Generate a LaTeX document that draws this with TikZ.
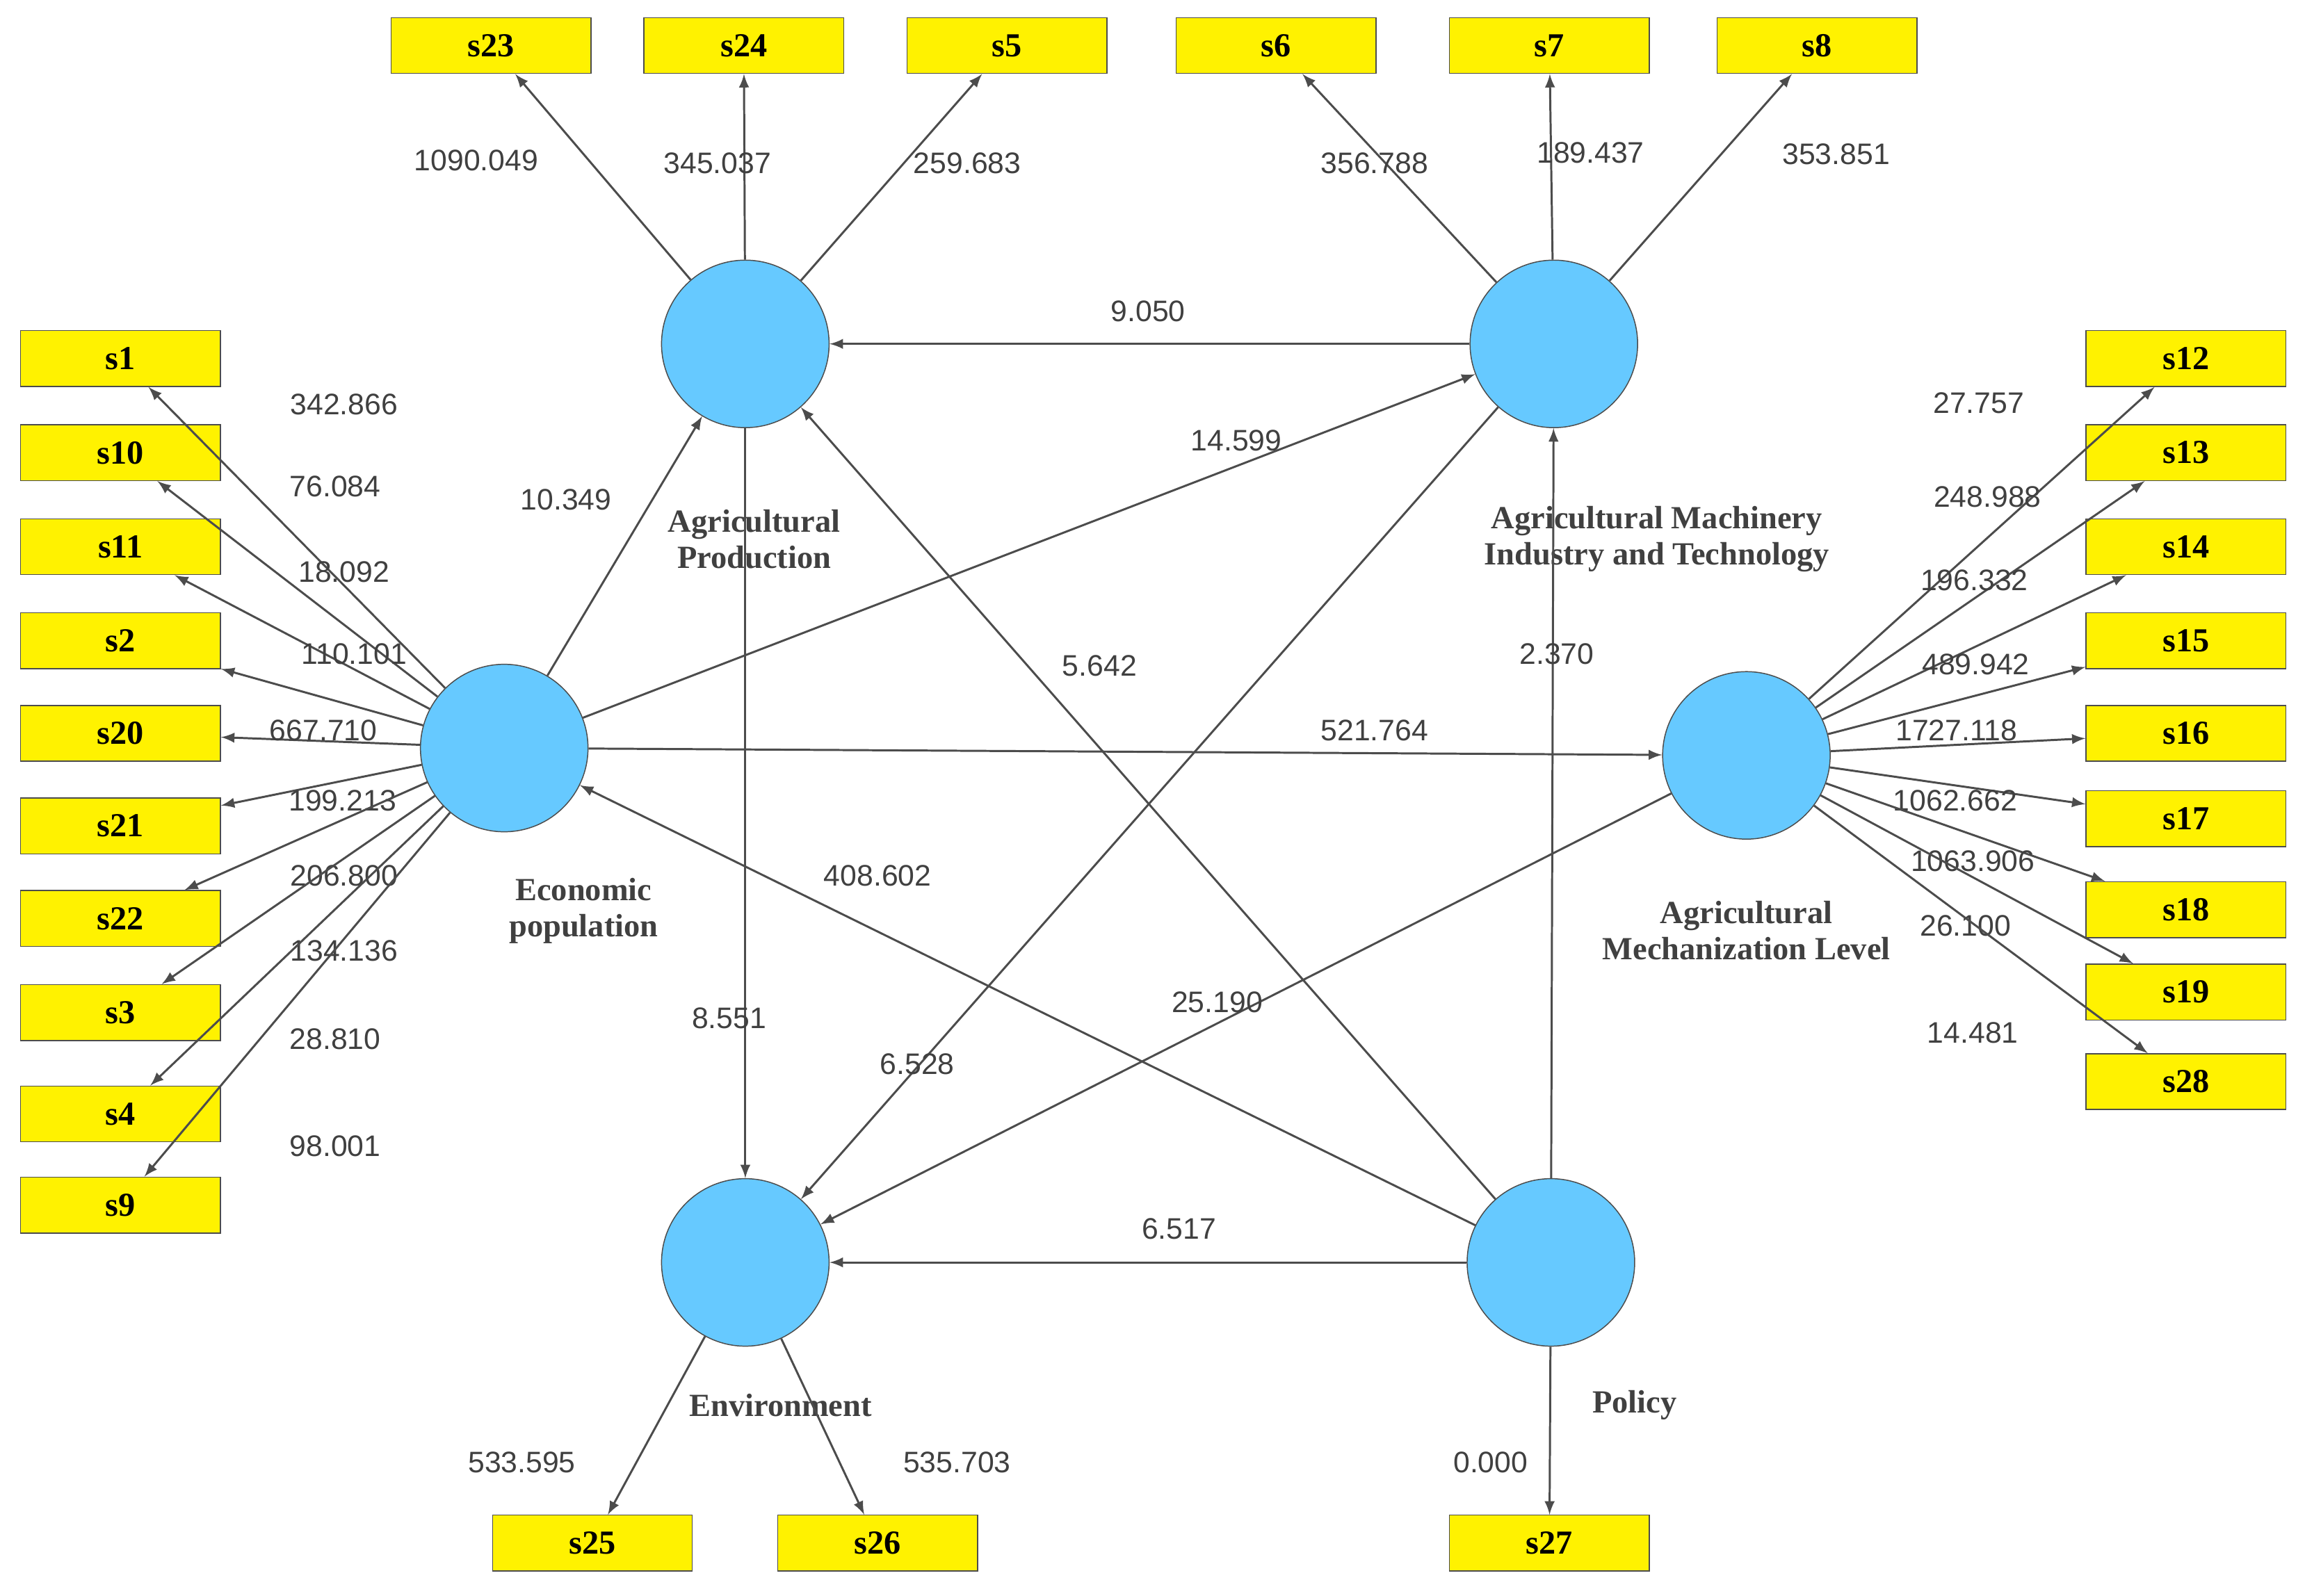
\documentclass[tikz,border=0pt]{standalone}
\usepackage{fontspec}
\setmainfont{Liberation Serif}
\newfontfamily\numfont{Liberation Sans}
\usetikzlibrary{arrows}

\begin{document}
\begin{tikzpicture}[x=0.02cm,y=-0.02cm]
\tikzset{lv/.style={circle,draw=black!70,fill=blue!35!cyan!60!white,minimum size=2.28cm,inner sep=0pt},
  mv/.style={draw=black!70,fill=yellow,minimum width=2.72cm,minimum height=0.76cm,inner sep=0pt,font=\fontsize{13}{13}\selectfont\bfseries},
  path/.style={-latex,draw=black!70,thick},
  coef/.style={font=\numfont\fontsize{11.5}{12}\selectfont,text=black!75},
  lvname/.style={font=\fontsize{12.5}{14}\selectfont\bfseries,text=black!75,align=center}}
\useasboundingbox (0,0) rectangle (1568,1086);
\fill[blue!35!cyan!60!white] (0,0) rectangle (0,0);

% latent variables
\node (AP) [lv] at (507,234) {};
\node (AMIT) [lv] at (1057,234) {};
\node (EP) [lv] at (343,509) {};
\node (AML) [lv] at (1188,514) {};
\node (Env) [lv] at (507,859) {};
\node (Pol) [lv] at (1055,859) {};

\node [lvname] at (513,367) {Agricultural\\Production};
\node [lvname] at (1127,367) {Agricultural Machinery\\Industry and Technology};
\node [lvname] at (397,620) {Economic\\population};
\node [lvname] at (1188,633) {Agricultural\\Mechanization Level};
\node [lvname] at (531,956) {Environment};
\node [lvname] at (1112,956) {Policy};

% indicators
\foreach \n/\x in {s23/334,s24/506,s5/685,s6/868,s7/1054,s8/1236}
  \node (\n) [mv] at (\x,31) {\n};
\foreach \n/\y in {s1/244,s10/308,s11/372,s2/436,s20/499,s21/562,s22/625,s3/689,s4/758,s9/820}
  \node (\n) [mv] at (82,\y) {\n};
\foreach \n/\y in {s12/244,s13/308,s14/372,s15/436,s16/499,s17/557,s18/619,s19/675,s28/736}
  \node (\n) [mv] at (1487,\y) {\n};
\foreach \n/\x in {s25/403,s26/597,s27/1054}
  \node (\n) [mv] at (\x,1050) {\n};

% outer loadings
\foreach \n/\v/\x/\y in {s23/1090.049/324/109,s24/345.037/488/111,s5/259.683/658/111}
  {\draw [path] (AP) -- (\n); \node [coef] at (\x,\y) {\v};}
\foreach \n/\v/\x/\y in {s6/356.788/935/111,s7/189.437/1082/104,s8/353.851/1249/105}
  {\draw [path] (AMIT) -- (\n); \node [coef] at (\x,\y) {\v};}
\foreach \n/\v/\x/\y in {s1/342.866/234/275,s10/76.084/228/331,s11/18.092/234/389,s2/110.101/241/445,s20/667.710/220/497,s21/199.213/233/545,s22/206.800/234/596,s3/134.136/234/647,s4/28.810/228/707,s9/98.001/228/780}
  {\draw [path] (EP) -- (\n); \node [coef] at (\x,\y) {\v};}
\foreach \n/\v/\x/\y in {s12/27.757/1346/274,s13/248.988/1352/338,s14/196.332/1343/395,s15/489.942/1344/452,s16/1727.118/1331/497,s17/1062.662/1330/545,s18/1063.906/1342/586,s19/26.100/1337/630,s28/14.481/1342/703}
  {\draw [path] (AML) -- (\n); \node [coef] at (\x,\y) {\v};}
\draw [path] (Env) -- (s25); \node [coef] at (355,995) {533.595};
\draw [path] (Env) -- (s26); \node [coef] at (651,995) {535.703};
\draw [path] (Pol) -- (s27); \node [coef] at (1014,995) {0.000};

% inner model
\draw [path] (AMIT) -- (AP); \node [coef] at (781,212) {9.050};
\draw [path] (EP) -- (AP); \node [coef] at (385,340) {10.349};
\draw [path] (EP) -- (AMIT); \node [coef] at (841,300) {14.599};
\draw [path] (EP) -- (AML); \node [coef] at (935,497) {521.764};
\draw [path] (Pol) -- (EP); \node [coef] at (597,596) {408.602};
\draw [path] (Pol) -- (AP); \node [coef] at (748,453) {5.642};
\draw [path] (Pol) -- (AMIT); \node [coef] at (1059,445) {2.370};
\draw [path] (AP) -- (Env); \node [coef] at (496,693) {8.551};
\draw [path] (AMIT) -- (Env); \node [coef] at (624,724) {6.528};
\draw [path] (AML) -- (Env); \node [coef] at (828,682) {25.190};
\draw [path] (Pol) -- (Env); \node [coef] at (802,836) {6.517};
\end{tikzpicture}
\end{document}
